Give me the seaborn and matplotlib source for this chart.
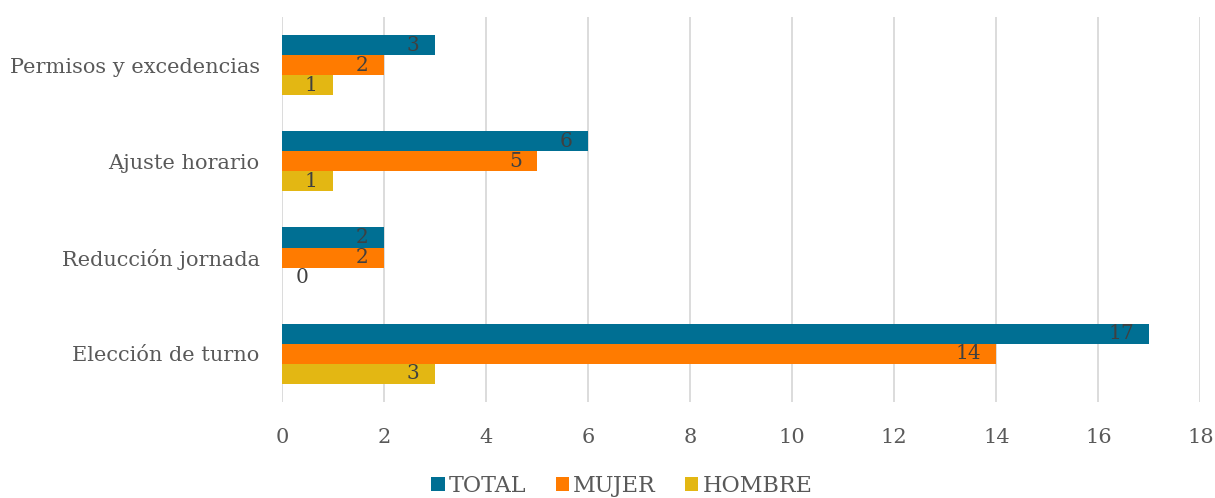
import pandas as pd
import matplotlib.pyplot as plt
import seaborn as sns

categories = ["Permisos y excedencias", "Ajuste horario", "Reducción jornada", "Elección de turno"]
series = ["TOTAL", "MUJER", "HOMBRE"]
total = [3, 6, 2, 17]
mujer = [2, 5, 2, 14]
hombre = [1, 1, 0, 3]
x_ticks = [0, 2, 4, 6, 8, 10, 12, 14, 16, 18]

colors = ["#006F93", "#FF7B00", "#E3B713"]
text_color = "#595959"

rows = []
for cat, t, m, h in zip(categories, total, mujer, hombre):
    rows.append({"cat": cat, "serie": "TOTAL", "valor": t})
    rows.append({"cat": cat, "serie": "MUJER", "valor": m})
    rows.append({"cat": cat, "serie": "HOMBRE", "valor": h})
df = pd.DataFrame(rows)

sns.set_style("white")
plt.rcParams["font.family"] = ["DejaVu Serif"]

fig = plt.figure(figsize=(12.15, 4.98), dpi=100)
ax = fig.add_axes([0.232, 0.193, 0.756, 0.773])

sns.barplot(data=df, y="cat", x="valor", hue="serie", order=categories, hue_order=series,
            palette=colors, width=0.625, orient="h", ax=ax, saturation=1, legend=True,
            linewidth=0, edgecolor="none")

# etiquetas de valor (extremo interno)
for cont in ax.containers:
    for bar in cont:
        val = bar.get_width()
        yc = bar.get_y() + bar.get_height() / 2
        if val == 0:
            ax.annotate(f"{val:.0f}", (val, yc), xytext=(10, 0), textcoords="offset points",
                        ha="left", va="center", fontsize=14.5, color="#404040")
        else:
            ax.annotate(f"{val:.0f}", (val, yc), xytext=(-11, 0), textcoords="offset points",
                        ha="right", va="center", fontsize=14.5, color="#404040")

ax.set_xlim(0, 18)
ax.set_ylim(3.5, -0.5)
ax.set_xticks(x_ticks)
ax.set_xticklabels([str(t) for t in x_ticks])
ax.grid(axis="x", color="#D9D9D9", linewidth=1.3)
ax.set_axisbelow(True)
for s in ax.spines.values():
    s.set_visible(False)
ax.set_xlabel("")
ax.set_ylabel("")
ax.tick_params(axis="x", colors=text_color, labelsize=15, length=0, pad=19)
ax.tick_params(axis="y", colors=text_color, labelsize=15, length=0, pad=16)

handles, labels = ax.get_legend_handles_labels()
ax.legend_.remove()
fig.legend(handles, labels, loc="center", bbox_to_anchor=(622 / 1215, 0.025), ncol=3,
           frameon=False, fontsize=16, handlelength=0.6, handleheight=0.6,
           handletextpad=0.2, columnspacing=1.3, labelcolor=text_color)

plt.savefig("out.png", dpi=100)
plt.close()
